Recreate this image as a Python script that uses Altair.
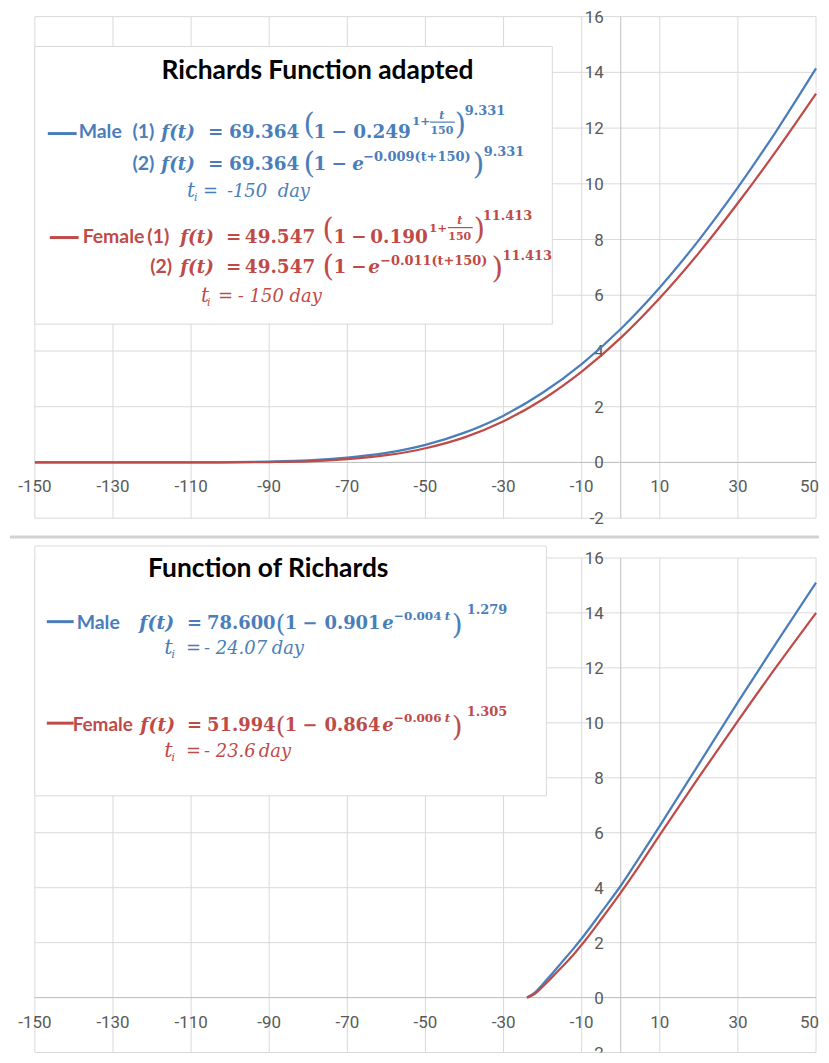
import altair as alt
import pandas as pd

# ---------------- data ----------------
t_top = [-150, -140, -130, -120, -110, -100, -90, -80, -70, -60, -50, -40, -30, -20, -10, 0, 10, 20, 30, 40, 50]
male_top = [0, 0, 0, 0, 0, 0.01, 0.03, 0.07, 0.17, 0.34, 0.63, 1.07, 1.68, 2.50, 3.53, 4.79, 6.28, 7.98, 9.87, 11.93, 14.14]
female_top = [0, 0, 0, 0, 0, 0.003, 0.013, 0.04, 0.12, 0.26, 0.51, 0.90, 1.48, 2.26, 3.26, 4.47, 5.90, 7.52, 9.31, 11.22, 13.24]

t_bot = [-24, -22, -20, -18, -15, -12, -10, -5, 0, 5, 10, 20, 30, 40, 50]
male_bot = [0, 0.18, 0.48, 0.80, 1.30, 1.80, 2.15, 3.10, 4.07, 5.15, 6.25, 8.50, 10.75, 12.95, 15.10]
female_bot = [0, 0.14, 0.40, 0.68, 1.12, 1.58, 1.92, 2.85, 3.82, 4.85, 5.92, 8.02, 10.07, 12.07, 14.00]

x_ticks = [-150, -130, -110, -90, -70, -50, -30, -10, 10, 30, 50]
y_ticks = [-2, 0, 2, 4, 6, 8, 10, 12, 14, 16]

# ---------------- styles ----------------
BLUE = "#4A7EBB"
RED = "#BE4B48"
BLACK = "#000000"
GRID = "#D9D9D9"
AXIS = "#BFBFBF"
LABEL = "#595959"
SANS = "Lato"
SERIF = "DejaVu Serif"
AXF = "Roboto"
AXS = 17

W = 785
LEFT = 33


def T(text, x, y, font, size, color, weight="normal", style="normal", align="left"):
    return dict(text=text, x=x, y=y, font=font, size=size, color=color,
                weight=weight, style=style, align=align)


def formula_row(col, y, parts):
    return [T(p[0], p[1], y + p[2], SERIF, p[3], col, p[4], p[5], p[6] if len(p) > 6 else "left") for p in parts]


# ---- top panel annotations (page coordinates) ----
top_items = [T("Richards Function adapted", 317, 77, SANS, 26.5, BLACK, "bold", "normal", "center")]
top_items += [T("Male", 77, 136, SANS, 19.5, BLUE, "bold"), T("(1)", 131, 136, SANS, 19.5, BLUE, "bold")]
top_items += formula_row(BLUE, 136, [
    ("f(t)", 160, 0, 18.5, "bold", "italic"),
    ("=", 207, 0, 18.5, "bold", "normal"),
    ("69.364", 228, 0, 18.5, "bold", "normal"),
    ("(", 303, -4, 29, "normal", "normal"),
    ("1", 313, 0, 18.5, "bold", "normal"),
    ("\u2212", 331, 0, 18.5, "bold", "normal"),
    ("0.249", 353, 0, 18.5, "bold", "normal"),
    ("1+", 412, -13, 12, "bold", "normal"),
    ("t", 442, -19, 11, "bold", "italic", "center"),
    ("150", 442, -4, 11, "bold", "normal", "center"),
    (")", 455, -4, 29, "normal", "normal"),
    ("9.331", 465, -23, 13, "bold", "normal"),
])
top_items += [T("(2)", 131, 168, SANS, 19.5, BLUE, "bold")]
top_items += formula_row(BLUE, 168, [
    ("f(t)", 160, 0, 18.5, "bold", "italic"),
    ("=", 207, 0, 18.5, "bold", "normal"),
    ("69.364", 228, 0, 18.5, "bold", "normal"),
    ("(", 303, 3, 30, "normal", "normal"),
    ("1", 313, 0, 18.5, "bold", "normal"),
    ("\u2212", 331, 0, 18.5, "bold", "normal"),
    ("e", 352, 0, 18.5, "bold", "italic"),
    ("\u22120.009(t+150)", 363, -9, 13, "bold", "normal"),
    (")", 473, 4, 30, "normal", "normal"),
    ("9.331", 484, -14, 13, "bold", "normal"),
])
top_items += formula_row(BLUE, 195, [
    ("t", 186, 0, 20, "normal", "italic"),
    ("i", 193, 4, 11, "normal", "italic"),
    ("=", 202, 0, 18, "normal", "normal"),
    ("-150", 226, 0, 18, "normal", "italic"),
    ("day", 277, 0, 18, "normal", "italic"),
])
top_items += [T("Female", 81, 241, SANS, 19.5, RED, "bold"), T("(1)", 146, 241, SANS, 19.5, RED, "bold")]
top_items += formula_row(RED, 241, [
    ("f(t)", 179, 0, 18.5, "bold", "italic"),
    ("=", 225, 0, 18.5, "bold", "normal"),
    ("49.547", 244, 0, 18.5, "bold", "normal"),
    ("(", 322, -4, 29, "normal", "normal"),
    ("1", 333, 0, 18.5, "bold", "normal"),
    ("\u2212", 351, 0, 18.5, "bold", "normal"),
    ("0.190", 370, 0, 18.5, "bold", "normal"),
    ("1+", 429, -11, 12, "bold", "normal"),
    ("t", 460, -19, 11, "bold", "italic", "center"),
    ("150", 460, -3, 11, "bold", "normal", "center"),
    (")", 474, -4, 29, "normal", "normal"),
    ("11.413", 483, -23, 13, "bold", "normal"),
])
top_items += [T("(2)", 149, 272, SANS, 19.5, RED, "bold")]
top_items += formula_row(RED, 272, [
    ("f(t)", 179, 0, 18.5, "bold", "italic"),
    ("=", 225, 0, 18.5, "bold", "normal"),
    ("49.547", 244, 0, 18.5, "bold", "normal"),
    ("(", 322, 3, 30, "normal", "normal"),
    ("1", 333, 0, 18.5, "bold", "normal"),
    ("\u2212", 351, 0, 18.5, "bold", "normal"),
    ("e", 368, 0, 18.5, "bold", "italic"),
    ("\u22120.011(t+150)", 380, -8, 13, "bold", "normal"),
    (")", 492, 5, 30, "normal", "normal"),
    ("11.413", 503, -13, 13, "bold", "normal"),
])
top_items += formula_row(RED, 301, [
    ("t", 200, 0, 20, "normal", "italic"),
    ("i", 206, 4, 11, "normal", "italic"),
    ("=", 217, 0, 18, "normal", "normal"),
    ("- 150", 237, 0, 18, "normal", "italic"),
    ("day", 289, 0, 18, "normal", "italic"),
])
top_rules = [
    dict(x1=46, x2=75, y=131.5, c=BLUE, w=3),
    dict(x1=48, x2=77, y=236, c=RED, w=3),
    dict(x1=430, x2=455, y=120, c=BLUE, w=1.2),
    dict(x1=448, x2=473, y=226, c=RED, w=1.2),
    dict(x1=8, x2=821, y=537, c="#D3D3D3", w=3),
]
top_box = dict(x1=33, x2=553, y1=44, y2=323)

# ---- bottom panel annotations (page coordinates) ----
bot_items = [T("Function of Richards", 267.5, 577, SANS, 26.5, BLACK, "bold", "normal", "center")]
bot_items += [T("Male", 75, 629, SANS, 19.5, BLUE, "bold")]
bot_items += formula_row(BLUE, 629, [
    ("f(t)", 138, 0, 19, "bold", "italic"),
    ("=", 186, 0, 18, "bold", "normal"),
    ("78.600", 206, 0, 18, "bold", "normal"),
    ("(", 275, 3, 25, "normal", "normal"),
    ("1", 284, 0, 18, "bold", "normal"),
    ("\u2212", 302, 0, 18, "bold", "normal"),
    ("0.901", 324, 0, 18, "bold", "normal"),
    ("e", 382, 0, 18, "bold", "italic"),
    ("\u22120.004", 394, -9, 12, "bold", "normal"),
    ("t", 445, -9, 12, "bold", "italic"),
    (")", 452, 5, 28, "normal", "normal"),
    ("1.279", 467, -15, 13, "bold", "normal"),
])
bot_items += formula_row(BLUE, 655, [
    ("t", 163, 0, 21, "normal", "italic"),
    ("i", 170, 4, 12, "normal", "italic"),
    ("=", 185, 0, 18, "normal", "normal"),
    ("- 24.07", 203, 0, 18, "normal", "italic"),
    ("day", 271, 0, 18, "normal", "italic"),
])
bot_items += [T("Female", 71, 732, SANS, 19, RED, "bold")]
bot_items += formula_row(RED, 732, [
    ("f(t)", 139, 0, 19, "bold", "italic"),
    ("=", 186, 0, 18, "bold", "normal"),
    ("51.994", 206, 0, 18, "bold", "normal"),
    ("(", 275, 3, 25, "normal", "normal"),
    ("1", 284, 0, 18, "bold", "normal"),
    ("\u2212", 302, 0, 18, "bold", "normal"),
    ("0.864", 324, 0, 18, "bold", "normal"),
    ("e", 382, 0, 18, "bold", "italic"),
    ("\u22120.006", 394, -9, 12, "bold", "normal"),
    ("t", 445, -9, 12, "bold", "italic"),
    (")", 452, 5, 28, "normal", "normal"),
    ("1.305", 467, -15, 13, "bold", "normal"),
])
bot_items += formula_row(RED, 758, [
    ("t", 163, 0, 21, "normal", "italic"),
    ("i", 170, 4, 12, "normal", "italic"),
    ("=", 185, 0, 18, "normal", "normal"),
    ("- 23.6", 203, 0, 18, "normal", "italic"),
    ("day", 258, 0, 18, "normal", "italic"),
])
bot_rules = [
    dict(x1=45, x2=72, y=622, c=BLUE, w=3),
    dict(x1=45, x2=72, y=724, c=RED, w=3),
]
bot_box = dict(x1=33, x2=547, y1=546, y2=797)

xs = alt.Scale(domain=[-150, 50], nice=False, zero=False)
ys = alt.Scale(domain=[-2, 16], nice=False, zero=False)


def px(name):
    return alt.X(name, scale=None, axis=None)


def py(name):
    return alt.Y(name, scale=None, axis=None)


def panel(top, height, t, male, female, items, rules, box, xdy, extent=False, clip_bottom_label=False):
    layers = []
    if extent:
        layers.append(alt.Chart(alt.Data(values=[dict(x1=8 - LEFT, x2=821 - LEFT, y1=8 - top, y2=1055 - top)]))
                      .mark_rect(color="white")
                      .encode(x=px("x1:Q"), x2="x2:Q", y=py("y1:Q"), y2="y2:Q"))
    layers.append(alt.Chart(pd.DataFrame({"v": x_ticks})).mark_rule(color=GRID, strokeWidth=1)
                  .encode(x=alt.X("v:Q", scale=xs, axis=None)))
    layers.append(alt.Chart(pd.DataFrame({"v": y_ticks})).mark_rule(color=GRID, strokeWidth=1)
                  .encode(y=alt.Y("v:Q", scale=ys, axis=None)))
    layers.append(alt.Chart(pd.DataFrame({"v": [0]})).mark_rule(color=AXIS, strokeWidth=1)
                  .encode(x=alt.X("v:Q", scale=xs, axis=None)))
    layers.append(alt.Chart(pd.DataFrame({"v": [0]})).mark_rule(color=AXIS, strokeWidth=1)
                  .encode(y=alt.Y("v:Q", scale=ys, axis=None)))
    yl_main = [v for v in y_ticks if v >= 0]
    yl_low = [v for v in y_ticks if v < 0]
    layers.append(alt.Chart(pd.DataFrame({"v": yl_main, "lab": [str(v) for v in yl_main]}))
                  .mark_text(align="right", baseline="middle", dx=-17, dy=1, font=AXF, fontSize=AXS, color=LABEL)
                  .encode(x=alt.XDatum(0, scale=xs, axis=None), y=alt.Y("v:Q", scale=ys, axis=None), text="lab:N"))
    layers.append(alt.Chart(pd.DataFrame({"v": yl_low, "lab": [str(v) for v in yl_low]}))
                  .mark_text(align="right", baseline="middle", dx=-17, dy=1, font=AXF, fontSize=AXS, color=LABEL,
                             clip=clip_bottom_label)
                  .encode(x=alt.XDatum(0, scale=xs, axis=None), y=alt.Y("v:Q", scale=ys, axis=None), text="lab:N"))
    xl_main = x_ticks[:-1]
    layers.append(alt.Chart(pd.DataFrame({"v": xl_main, "lab": [str(v) for v in xl_main]}))
                  .mark_text(align="center", baseline="middle", dy=xdy, font=AXF, fontSize=AXS, color=LABEL)
                  .encode(x=alt.X("v:Q", scale=xs, axis=None), y=alt.YDatum(0, scale=ys, axis=None), text="lab:N"))
    layers.append(alt.Chart(pd.DataFrame({"v": x_ticks[-1:], "lab": [str(v) for v in x_ticks[-1:]]}))
                  .mark_text(align="right", baseline="middle", dx=3, dy=xdy, font=AXF, fontSize=AXS, color=LABEL)
                  .encode(x=alt.X("v:Q", scale=xs, axis=None), y=alt.YDatum(0, scale=ys, axis=None), text="lab:N"))
    for vals, col in ((male, BLUE), (female, RED)):
        layers.append(alt.Chart(pd.DataFrame({"t": t, "v": vals}))
                      .mark_line(color=col, strokeWidth=2.25, interpolate="monotone")
                      .encode(x=alt.X("t:Q", scale=xs, axis=None), y=alt.Y("v:Q", scale=ys, axis=None)))
    layers.append(alt.Chart(alt.Data(values=[dict(x1=box["x1"] - LEFT, x2=box["x2"] - LEFT,
                                                  y1=box["y1"] - top, y2=box["y2"] - top)]))
                  .mark_rect(fill="white", stroke="#D9D9D9", strokeWidth=1)
                  .encode(x=px("x1:Q"), x2="x2:Q", y=py("y1:Q"), y2="y2:Q"))
    rrows = [dict(x1=r["x1"] - LEFT, x2=r["x2"] - LEFT, y=r["y"] - top, c=r["c"], w=r["w"]) for r in rules]
    layers.append(alt.Chart(alt.Data(values=rrows)).mark_rule()
                  .encode(x=px("x1:Q"), x2="x2:Q", y=py("y:Q"),
                          color=alt.Color("c:N", scale=None),
                          strokeWidth=alt.StrokeWidth("w:Q", scale=None)))
    groups = {}
    for it in items:
        key = (it["font"], it["weight"], it["style"], it["align"])
        groups.setdefault(key, []).append(dict(text=it["text"], px=it["x"] - LEFT, py=it["y"] - top,
                                               fs=it["size"], col=it["color"]))
    for (font, weight, style, align), rows in groups.items():
        layers.append(alt.Chart(alt.Data(values=rows))
                      .mark_text(font=font, fontWeight=weight, fontStyle=style, align=align, baseline="alphabetic")
                      .encode(x=px("px:Q"), y=py("py:Q"), text="text:N",
                              size=alt.Size("fs:Q", scale=None, legend=None),
                              color=alt.Color("col:N", scale=None)))
    return alt.layer(*layers).resolve_scale(
        x="independent", y="independent", color="independent", size="independent", strokeWidth="independent"
    ).properties(width=W, height=height)


top_chart = panel(14, 504, t_top, male_top, female_top, top_items, top_rules, top_box, 24.5, extent=True)
bot_chart = panel(558, 497, t_bot, male_bot, female_bot, bot_items, bot_rules, bot_box, 26, clip_bottom_label=True)

chart = alt.vconcat(
    top_chart, bot_chart, spacing=40, bounds="flush",
    padding={"top": -1.9, "left": 0, "right": 0, "bottom": 0},
).configure_view(stroke=None)

chart.save("out.html", embed_options={"renderer": "svg", "actions": False})
